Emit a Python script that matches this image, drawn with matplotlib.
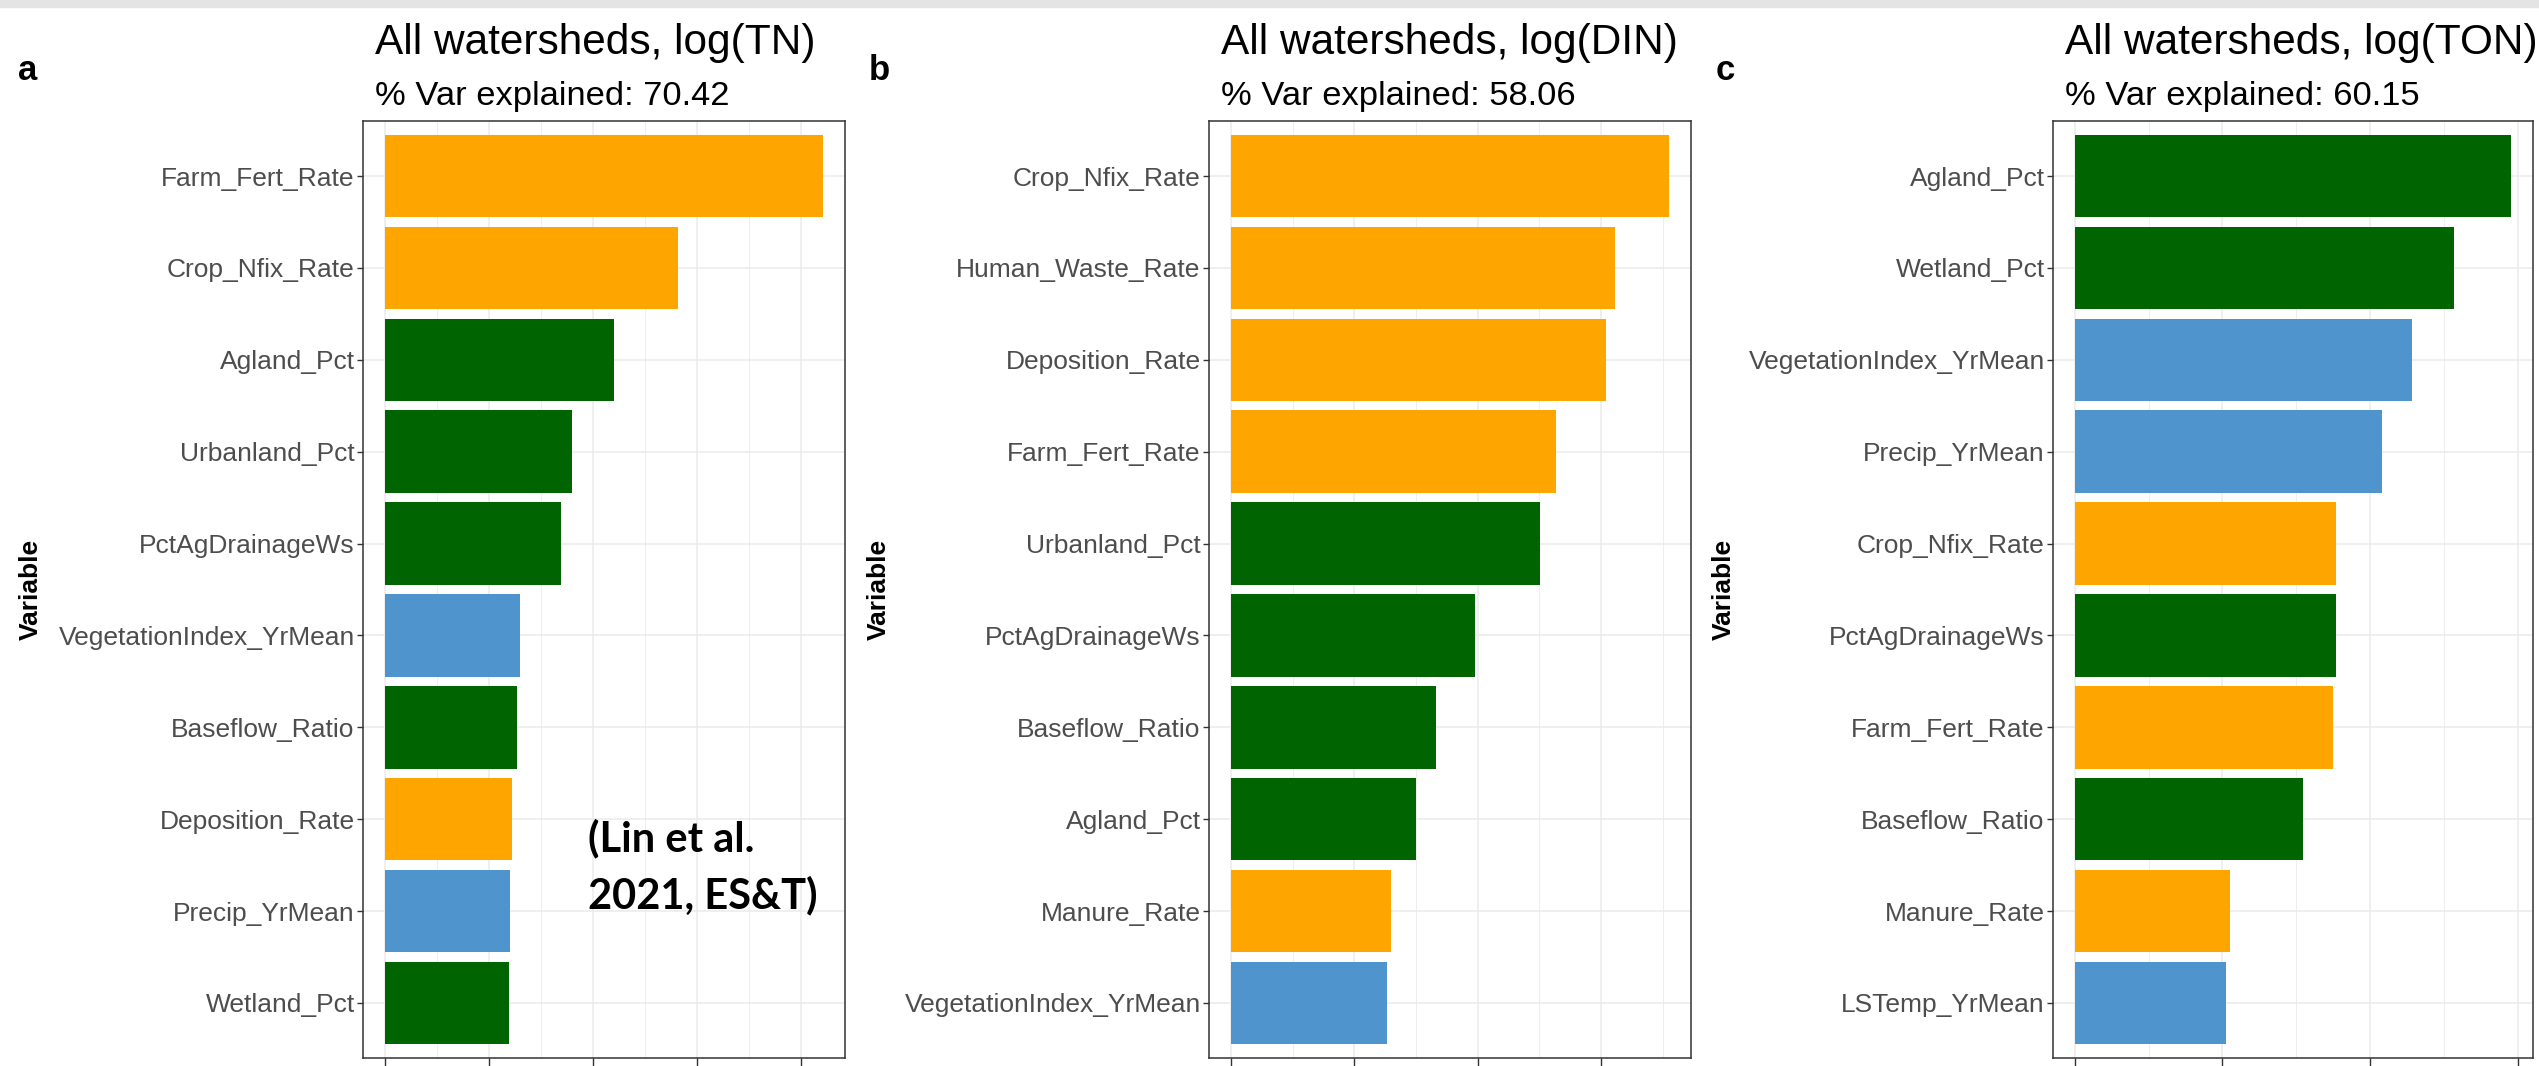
import matplotlib
matplotlib.use("Agg")
import matplotlib.pyplot as plt
from matplotlib.ticker import MultipleLocator

plt.rcParams['font.family'] = ['Liberation Sans', 'DejaVu Sans']

# Group colours (inputs, land use, climate)
group_colors = {'input': '#FFA500', 'land': '#006400', 'climate': '#4F94CD'}

# Panel a: log(TN)
tn_vars = ['Farm_Fert_Rate', 'Crop_Nfix_Rate', 'Agland_Pct', 'Urbanland_Pct', 'PctAgDrainageWs',
           'VegetationIndex_YrMean', 'Baseflow_Ratio', 'Deposition_Rate', 'Precip_YrMean', 'Wetland_Pct']
tn_imp = [4.21, 2.82, 2.20, 1.80, 1.69, 1.30, 1.27, 1.225, 1.20, 1.195]
tn_grp = ['input', 'input', 'land', 'land', 'land', 'climate', 'land', 'input', 'climate', 'land']

# Panel b: log(DIN)
din_vars = ['Crop_Nfix_Rate', 'Human_Waste_Rate', 'Deposition_Rate', 'Farm_Fert_Rate', 'Urbanland_Pct',
            'PctAgDrainageWs', 'Baseflow_Ratio', 'Agland_Pct', 'Manure_Rate', 'VegetationIndex_YrMean']
din_imp = [3.55, 3.11, 3.035, 2.63, 2.505, 1.976, 1.665, 1.50, 1.30, 1.268]
din_grp = ['input', 'input', 'input', 'input', 'land', 'land', 'land', 'land', 'input', 'climate']

# Panel c: log(TON)
ton_vars = ['Agland_Pct', 'Wetland_Pct', 'VegetationIndex_YrMean', 'Precip_YrMean', 'Crop_Nfix_Rate',
            'PctAgDrainageWs', 'Farm_Fert_Rate', 'Baseflow_Ratio', 'Manure_Rate', 'LSTemp_YrMean']
ton_imp = [2.957, 2.57, 2.288, 2.079, 1.773, 1.773, 1.75, 1.543, 1.05, 1.022]
ton_grp = ['land', 'land', 'climate', 'climate', 'input', 'land', 'input', 'land', 'input', 'climate']

titles = ['All watersheds, log(TN)', 'All watersheds, log(DIN)', 'All watersheds, log(TON)']
var_expl = ['70.42', '58.06', '60.15']
letters = ['a', 'b', 'c']

W, H = 2539, 1066
fig = plt.figure(figsize=(W / 100, H / 100), dpi=100)

# thin grey band at the top of the screenshot
fig.patches.append(plt.Rectangle((0, 1 - 7 / H), 1, 7 / H, transform=fig.transFigure,
                                 color='#E4E4E4', zorder=0))

# pixel boxes (left, right) of each panel, shared top/bottom
boxes = [(363, 845), (1209, 1691), (2053, 2533)]
letter_x = [18, 869, 1716]
ylab_x = [31, 879, 1724]
top, bottom = 121, 1058
title_shift = 12

panels = [(tn_vars, tn_imp, tn_grp), (din_vars, din_imp, din_grp), (ton_vars, ton_imp, ton_grp)]

for i, (names, vals, grps) in enumerate(panels):
    l, r = boxes[i]
    ax = fig.add_axes([l / W, (H - bottom) / H, (r - l) / W, (bottom - top) / H])
    n = len(names)
    ax.barh(range(n), vals, height=0.9, color=[group_colors[g] for g in grps], zorder=2)
    vmax = max(vals)
    ax.set_xlim(-0.05 * vmax, 1.05 * vmax)
    ax.set_ylim(n - 1 + 0.6, -0.6)
    ax.xaxis.set_major_locator(MultipleLocator(1))
    ax.xaxis.set_minor_locator(MultipleLocator(0.5))
    ax.set_yticks(range(n))
    ax.set_yticklabels(names)
    ax.set_xticklabels([])
    ax.grid(which='major', color='#EBEBEB', lw=1.1, zorder=0)
    ax.grid(which='minor', axis='x', color='#EBEBEB', lw=0.6, zorder=0)
    ax.set_axisbelow(True)
    ax.tick_params(axis='y', length=4.5, width=1.0, color='#333333', pad=1.5,
                   labelsize=19, labelcolor='#4D4D4D')
    ax.tick_params(axis='x', which='major', length=8, width=1.0, color='#333333')
    ax.tick_params(axis='x', which='minor', length=0)
    for s in ax.spines.values():
        s.set_color('#333333')
        s.set_linewidth(1.1)

    tx = (l + title_shift) / W
    fig.text(tx, 1 - 54 / H, titles[i], fontsize=30.5, color='black', va='baseline', ha='left')
    fig.text(tx, 1 - 105 / H, '% Var explained: ' + var_expl[i], fontsize=24.8, color='black',
             va='baseline', ha='left')
    fig.text(letter_x[i] / W, 1 - 80 / H, letters[i], fontsize=25, fontweight='bold',
             va='baseline', ha='left')
    fig.text(ylab_x[i] / W, 1 - ((top + bottom) / 2) / H, 'Variable', fontsize=19,
             fontweight='bold', rotation=90, va='center', ha='center')

# citation note on panel a
fig.text(588 / W, 1 - 851 / H, '(Lin et al.', fontsize=30, fontweight='bold',
         family=['Lato', 'DejaVu Sans'], va='baseline', ha='left')
fig.text(588 / W, 1 - 908 / H, '2021, ES&T)', fontsize=30, fontweight='bold',
         family=['Lato', 'DejaVu Sans'], va='baseline', ha='left')

fig.savefig('out.png', dpi=100)
